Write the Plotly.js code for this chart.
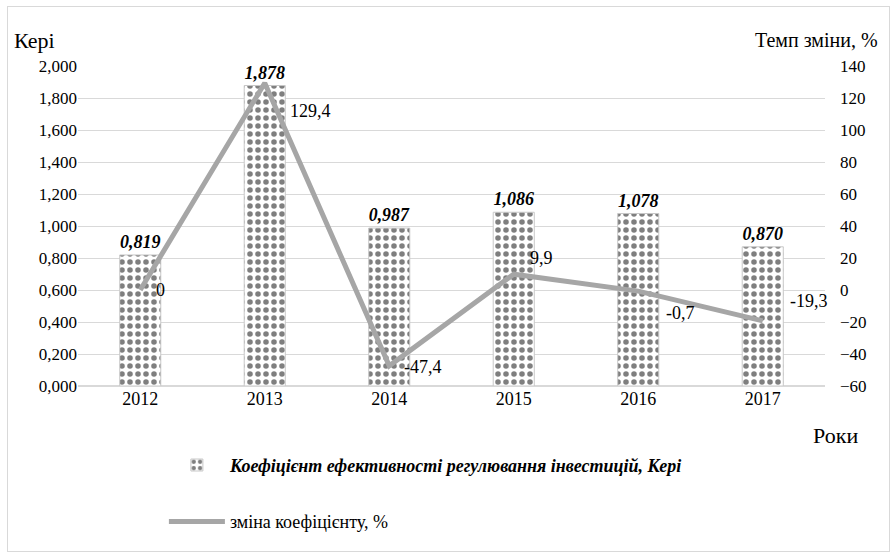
<!DOCTYPE html>
<html><head><meta charset="utf-8">
<script src="https://cdn.plot.ly/plotly-3.0.1.min.js"></script>
<style>
body{margin:0;padding:0;background:#fff;}
#chart{width:893px;height:552px;position:absolute;left:0;top:0;}
#chart svg text, #chart svg tspan{font-family:'Liberation Serif','Times New Roman',serif !important;}
#frame{position:absolute;left:7px;top:6px;width:881px;height:544px;border:1px solid #d9d9d9;pointer-events:none;}
#preload{position:absolute;left:0;top:0;opacity:0.01;font-family:'Liberation Serif';font-size:18px;color:#fff;pointer-events:none;}
</style></head>
<body>
<div id="preload"><span>Кері 2012 0,819</span><b><i>Коефіцієнт 1,878</i></b><b>Кері</b><i>Кері</i></div>
<div id="chart"></div>
<div id="frame"></div>
<script>
const years = ['2012','2013','2014','2015','2016','2017'];
const keri = [0.819, 1.878, 0.987, 1.086, 1.078, 0.870];
const change = [0, 129.4, -47.4, 9.9, -0.7, -19.3];
const changeLabels = ['0','129,4','-47,4','9,9','-0,7','-19,3'];
const barName = 'Коефіцієнт ефективності регулювання інвестицій, Кері';
const lineName = 'зміна коефіцієнту, %';

const FAM = 'Liberation Serif';

const bar = {
  type:'bar', x:years, y:keri, name:'<b><i>'+barName+'</i></b>',
  width:0.33, legendgroup:'a',
  marker:{color:'#ffffff', pattern:{shape:'.', fgcolor:'#7f7f7f', bgcolor:'#ffffff', size:8, solidity:0.38, fillmode:'replace'},
          line:{color:'#c8c8c8', width:1}},
  texttemplate:'<b><i>%{y:.3f}</i></b>', textposition:'outside', cliponaxis:false,
  textfont:{family:FAM, size:18, color:'#000'}, hoverinfo:'skip'
};
const line = {
  type:'scatter', mode:'lines', x:years, y:change, yaxis:'y2', name:lineName,
  legendgroup:'b', line:{color:'#a6a6a6', width:5}, hoverinfo:'skip'
};

const offs = [[20,0],[46,-28],[34,-1],[28,16],[42,-22],[46,20]];
const annotations = years.map((yr,i)=>({
  x:i, y:change[i], xref:'x', yref:'y2', text:changeLabels[i], showarrow:false,
  xshift:offs[i][0], yshift:offs[i][1], font:{family:FAM, size:18, color:'#000'}
}));
annotations.push({xref:'paper', yref:'paper', x:-0.088, y:1.08, xanchor:'left', yanchor:'middle', text:'Кері', showarrow:false, font:{family:FAM,size:22,color:'#000'}});
annotations.push({xref:'paper', yref:'paper', x:1.0736, y:1.08, xanchor:'right', yanchor:'middle', text:'Темп зміни, %', showarrow:false, font:{family:FAM,size:20,color:'#000'}});
annotations.push({xref:'paper', yref:'paper', x:1.047, y:-0.154, xanchor:'right', yanchor:'middle', text:'Роки', showarrow:false, font:{family:FAM,size:22,color:'#000'}});

const layout = {
  width:893, height:552,
  margin:{l:78, r:68, t:66, b:162},
  paper_bgcolor:'rgba(0,0,0,0)', plot_bgcolor:'rgba(0,0,0,0)',
  separators:',.',
  font:{family:FAM, size:17, color:'#000'},
  showlegend:true,
  legend:{orientation:'v', x:0.115, y:-0.19, xanchor:'left', yanchor:'top', tracegroupgap:30, traceorder:'grouped',
          font:{family:FAM, size:18, color:'#000'}, itemwidth:56, bgcolor:'rgba(0,0,0,0)'},
  xaxis:{type:'category', categoryorder:'array', categoryarray:years, range:[-0.5,5.5], showgrid:false, zeroline:false, showline:false, ticks:'', tickfont:{family:FAM,size:18}},
  yaxis:{range:[0,2], dtick:0.2, tickformat:'.3f', showgrid:true, gridcolor:'#d9d9d9', gridwidth:1.3, zeroline:true, zerolinecolor:'#d9d9d9', zerolinewidth:1.5, showline:false, ticks:'', tickfont:{family:FAM,size:17}},
  yaxis2:{overlaying:'y', side:'right', range:[-60,140], dtick:20, showgrid:false, zeroline:false, showline:false, ticks:'', tickfont:{family:FAM,size:17}, ticklabelstandoff:14},
  annotations:annotations,
  bargap:0.67
};
Plotly.newPlot('chart',[bar,line],layout,{displayModeBar:false});
if (document.fonts && document.fonts.load) {
  Promise.all([
    document.fonts.load('18px "Liberation Serif"'),
    document.fonts.load('bold italic 18px "Liberation Serif"')
  ]).then(()=>Plotly.redraw('chart')).catch(()=>{});
}
</script>
</body></html>
